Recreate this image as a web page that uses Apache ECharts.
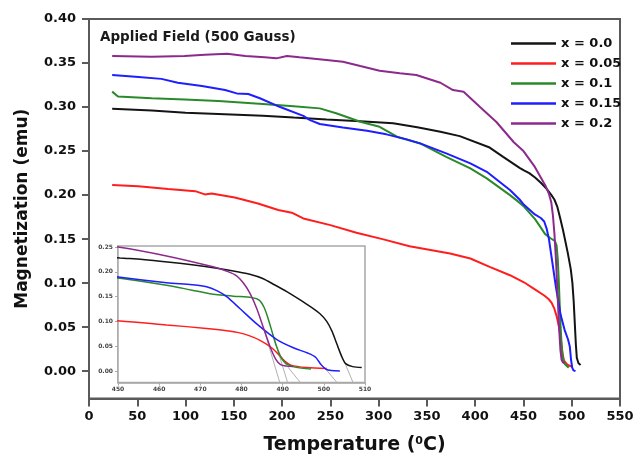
<!DOCTYPE html>
<html>
<head>
<meta charset="utf-8">
<script src="https://cdn.jsdelivr.net/npm/echarts@6/dist/echarts.min.js"></script>
<style>
  html, body { margin: 0; padding: 0; background: #fff; }
  #chart { width: 633px; height: 456px; }
</style>
</head>
<body>
<div id="chart"></div>
<script>
// Magnetization vs temperature, [T (°C), M (emu)] per composition
const seriesNames = ['x = 0.0', 'x = 0.05', 'x = 0.1', 'x = 0.15', 'x = 0.2'];
const seriesColors = ['#141414', '#ff1e1e', '#2a8a2a', '#1e1eff', '#8c2a8c'];

const curveX000 = [[24,0.298],[65,0.296],[100,0.2935],[134,0.292],[180,0.290],[212,0.288],[246,0.286],[281,0.284],[315,0.2815],[340,0.277],[364,0.272],[384,0.267],[415,0.254],[429,0.2435],[446,0.231],[450.5,0.228],[456,0.225],[462,0.220],[468,0.214],[474,0.207],[479,0.200],[482,0.195],[485,0.187],[488,0.174],[491,0.160],[495.8,0.135],[499,0.116],[500.7,0.100],[502,0.080],[503.1,0.056],[504.3,0.030],[505.3,0.015],[507,0.009],[509.2,0.007]];
const curveX005 = [[24,0.2115],[51,0.210],[82,0.2068],[110,0.2045],[120,0.2008],[127,0.2019],[151,0.1973],[175,0.1905],[196,0.183],[210,0.180],[222,0.1735],[250,0.1659],[277,0.1572],[305,0.1497],[332,0.142],[374,0.1337],[395,0.128],[415,0.1185],[436,0.109],[450.5,0.101],[461.8,0.093],[471.5,0.086],[476,0.082],[479,0.078],[482,0.071],[484.5,0.062],[487,0.049],[489,0.034],[490.5,0.020],[492,0.012],[495.8,0.007],[500.7,0.005]];
const curveX010 = [[24,0.3175],[30,0.312],[65,0.310],[99,0.3087],[134,0.3068],[180,0.3034],[212,0.301],[239,0.2985],[256,0.293],[281,0.2833],[301,0.2776],[319,0.2663],[343,0.2587],[370,0.2435],[395,0.2303],[412,0.219],[436,0.200],[443,0.194],[450.5,0.187],[461.8,0.173],[468,0.163],[472.3,0.156],[478,0.151],[482.5,0.148],[484.3,0.143],[485.5,0.128],[486.5,0.105],[487.5,0.077],[488.5,0.050],[489.7,0.026],[491,0.014],[493,0.008],[496.9,0.004]];
const curveX015 = [[24,0.3365],[48,0.3345],[75,0.332],[92,0.3276],[117,0.324],[141,0.3193],[153,0.3155],[165,0.3148],[177,0.310],[198,0.300],[222,0.290],[229,0.2852],[239,0.2807],[263,0.2769],[288,0.2731],[308,0.269],[329,0.2633],[343,0.2587],[370,0.2474],[395,0.236],[412,0.2265],[436,0.2057],[446,0.195],[450.5,0.189],[461.8,0.178],[468,0.174],[471.5,0.170],[474,0.162],[476.4,0.150],[479.6,0.126],[483.7,0.095],[488.5,0.064],[492.6,0.047],[496.2,0.036],[498,0.028],[499.3,0.013],[500.5,0.004],[501.8,0.001],[503.9,0.000]];
const curveX020 = [[24,0.358],[65,0.357],[99,0.358],[120,0.3595],[143,0.3606],[162,0.358],[182,0.3565],[194,0.3553],[205,0.358],[218,0.3565],[246,0.3534],[263,0.3515],[281,0.3466],[301,0.3413],[322,0.3383],[339,0.3364],[364,0.3276],[377,0.3193],[388,0.3174],[405,0.300],[422,0.283],[440,0.260],[450,0.250],[461.8,0.232],[473.1,0.210],[476.5,0.201],[478.8,0.192],[480.6,0.176],[482.1,0.156],[483.7,0.126],[485.3,0.088],[486.9,0.050],[488.3,0.024],[489.5,0.013],[491,0.010],[492.5,0.009]];
const curves = [curveX000, curveX005, curveX010, curveX015, curveX020];

// Extrapolated drop lines in the close-up (Curie point estimates)
const tangentLines = [
  [[485.3,0.088],[489.3,-0.023]],
  [[487.5,0.077],[491.2,-0.023]],
  [[487.5,0.047],[494.3,-0.023]],
  [[498.6,0.022],[503.2,-0.023]],
  [[503.2,0.054],[507.1,-0.023]]
];

// Axis ticks
const mainYTicks = [0, 0.05, 0.10, 0.15, 0.20, 0.25, 0.30, 0.35, 0.40];
const insetYTicks = [0, 0.05, 0.10, 0.15, 0.20, 0.25];

const FONT = 'DejaVu Sans';
const chart = echarts.init(document.getElementById('chart'), null, { renderer: 'canvas' });

const series = [];
curves.forEach((d, i) => {
  series.push({
    name: seriesNames[i], type: 'line', data: d, xAxisIndex: 0, yAxisIndex: 0,
    showSymbol: false, symbol: 'none', lineStyle: { color: seriesColors[i], width: 2 },
    itemStyle: { color: seriesColors[i] }, z: 3
  });
});
tangentLines.forEach(d => {
  series.push({
    type: 'line', data: d, xAxisIndex: 1, yAxisIndex: 1, silent: true,
    symbol: 'none', lineStyle: { color: '#b0b0b0', width: 1 }, z: 4
  });
});
curves.forEach((d, i) => {
  series.push({
    name: seriesNames[i], type: 'line', data: d, xAxisIndex: 1, yAxisIndex: 1,
    symbol: 'none', smooth: 0.3,
    lineStyle: { color: seriesColors[i], width: 1.5 },
    itemStyle: { color: seriesColors[i] }, z: 5
  });
});

chart.setOption({
  animation: false,
  backgroundColor: '#fff',
  title: {
    text: 'Applied Field (500 Gauss)', left: 95, top: 25,
    textStyle: { fontFamily: FONT, fontWeight: 'bold', fontSize: 13.5, color: '#1a1a1a' }
  },
  legend: {
    data: seriesNames, orient: 'vertical', left: 506, top: 31,
    icon: 'rect', itemWidth: 45, itemHeight: 2.5, itemGap: 5,
    textStyle: { fontFamily: FONT, fontWeight: 'bold', fontSize: 13, color: '#111', lineHeight: 15 }
  },
  grid: [
    { left: 89, top: 19, right: 13, bottom: 57.5, outerBoundsMode: 'none', containLabel: false,
      show: true, borderColor: '#5a5a5a', borderWidth: 2 },
    { left: 118, top: 246, width: 247, height: 136.5, outerBoundsMode: 'none', containLabel: false,
      show: true, backgroundColor: '#fff', borderColor: '#a8a8a8', borderWidth: 1.5, z: 4 }
  ],
  xAxis: [
    {
      gridIndex: 0, type: 'value', min: 0, max: 550, interval: 50,
      name: '{a|Temperature (}{s|0}{a|C)}', nameLocation: 'middle', nameGap: 37,
      nameTextStyle: {
        rich: {
          a: { fontFamily: FONT, fontWeight: 'bold', fontSize: 19, color: '#111' },
          s: { fontFamily: FONT, fontWeight: 'bold', fontSize: 11, color: '#111', verticalAlign: 'top', padding: [0, 0, 8, 0] }
        }
      },
      axisLine: { show: true, onZero: false, lineStyle: { color: '#5a5a5a', width: 2 } },
      axisTick: { show: true, inside: false, length: 8, lineStyle: { color: '#5a5a5a', width: 2 } },
      axisLabel: { margin: 12, fontFamily: FONT, fontWeight: 'bold', fontSize: 13, color: '#111' },
      splitLine: { show: false }
    },
    {
      gridIndex: 1, type: 'value', min: 450, max: 510, interval: 10,
      axisLine: { show: true, onZero: false, lineStyle: { color: '#a8a8a8', width: 1.5 } },
      axisTick: { show: true, length: 3, lineStyle: { color: '#a8a8a8' } },
      axisLabel: { margin: 4, fontFamily: FONT, fontWeight: 'bold', fontSize: 6, color: '#444' },
      splitLine: { show: false }
    }
  ],
  yAxis: [
    {
      gridIndex: 0, type: 'value', min: -0.031, max: 0.40,
      name: 'Magnetization (emu)', nameLocation: 'middle', nameGap: 58,
      nameTextStyle: { fontFamily: FONT, fontWeight: 'bold', fontSize: 17, color: '#111' },
      axisLine: { show: true, onZero: false, lineStyle: { color: '#5a5a5a', width: 2 } },
      axisTick: { show: true, inside: false, length: 7, customValues: mainYTicks, lineStyle: { color: '#5a5a5a', width: 2 } },
      axisLabel: { margin: 13, customValues: mainYTicks, formatter: v => v.toFixed(2), fontFamily: FONT, fontWeight: 'bold', fontSize: 13, color: '#111' },
      splitLine: { show: false }
    },
    {
      gridIndex: 1, type: 'value', min: -0.023, max: 0.252,
      axisLine: { show: true, onZero: false, lineStyle: { color: '#a8a8a8', width: 1.5 } },
      axisTick: { show: true, length: 3, customValues: insetYTicks, lineStyle: { color: '#a8a8a8' } },
      axisLabel: { margin: 5, customValues: insetYTicks, formatter: v => v.toFixed(2), fontFamily: FONT, fontWeight: 'bold', fontSize: 6, color: '#444' },
      splitLine: { show: false }
    }
  ],
  series: series
});
</script>
</body>
</html>
